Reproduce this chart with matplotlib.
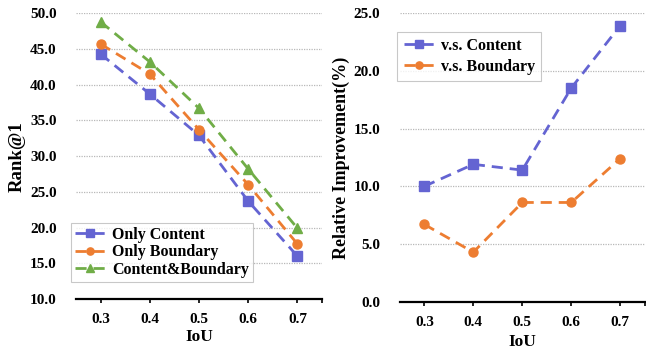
import matplotlib
matplotlib.use("Agg")
import matplotlib.pyplot as plt
from matplotlib.ticker import FixedLocator

iou = [0.3, 0.4, 0.5, 0.6, 0.7]
iou_labels = ["0.3", "0.4", "0.5", "0.6", "0.7"]
only_content = [44.3, 38.7, 32.9, 23.7, 16.0]
only_boundary = [45.7, 41.5, 33.7, 26.0, 17.7]
content_boundary = [48.8, 43.2, 36.7, 28.2, 19.9]
vs_content = [10.0, 11.9, 11.4, 18.5, 23.9]
vs_boundary = [6.7, 4.3, 8.6, 8.6, 12.4]
left_yticks = [10, 15, 20, 25, 30, 35, 40, 45, 50]
right_yticks = [0, 5, 10, 15, 20, 25]

plt.rcParams['font.family'] = ['Liberation Serif', 'DejaVu Serif']
plt.rcParams['font.weight'] = 'bold'

BLUE = '#6464D2'
ORANGE = '#ED7D31'
GREEN = '#70AD47'

fig = plt.figure(figsize=(6.46, 3.49), dpi=100)
ax1 = fig.add_axes([0.1176, 0.143, 0.381, 0.819])
ax2 = fig.add_axes([0.619, 0.135, 0.379, 0.828])

def style(ax, yticks, xlabelpad):
    for s in ['left', 'right', 'top']:
        ax.spines[s].set_visible(False)
    ax.spines['bottom'].set_linewidth(1.6)
    ax.spines['bottom'].set_color('black')
    ax.set_xlim(0.25, 0.75)
    ax.set_xticks(iou)
    ax.set_xticklabels(iou_labels, fontsize=11, fontweight='bold')
    ax.xaxis.set_minor_locator(FixedLocator([0.75]))
    ax.tick_params(axis='x', which='both', direction='out', length=3, width=1.2, pad=7)
    ax.set_ylim(yticks[0], yticks[-1])
    ax.set_yticks(yticks)
    ax.set_yticklabels([f"{v:.1f}" for v in yticks], fontsize=11, fontweight='bold')
    ax.tick_params(axis='y', length=0, pad=14)
    for v in yticks[1:]:
        ax.axhline(v, color='#b8b8b8', linestyle=(0, (1, 1)), linewidth=0.9, zorder=0)
    ax.set_xlabel("IoU", fontsize=12.5, fontweight='bold', labelpad=xlabelpad)

LW = 2
MS = 6.5
style(ax1, left_yticks, 2)
ax1.plot(iou, only_content, color=BLUE, linestyle='--', dashes=(4, 2.5), linewidth=LW,
         marker='s', markersize=MS, label='Only Content')
ax1.plot(iou, only_boundary, color=ORANGE, linestyle='--', dashes=(4, 2.5), linewidth=LW,
         marker='o', markersize=MS, label='Only Boundary')
ax1.plot(iou, content_boundary, color=GREEN, linestyle='--', dashes=(4, 2.5), linewidth=LW,
         marker='^', markersize=MS, label='Content&Boundary')
ax1.set_ylabel("Rank@1", fontsize=13.5, fontweight='bold', labelpad=3)
leg1 = ax1.legend(loc='lower left', bbox_to_anchor=(-0.02, 0.06), fontsize=11.5,
                  frameon=True, fancybox=False, edgecolor='#bbbbbb', borderpad=0.25,
                  labelspacing=0.1, handlelength=1.9, handletextpad=0.4, borderaxespad=0,
                  markerscale=0.8)
leg1.get_frame().set_linewidth(0.8)

style(ax2, right_yticks, 4)
ax2.plot(iou, vs_content, color=BLUE, linestyle='--', dashes=(4, 2.5), linewidth=LW,
         marker='s', markersize=MS, label='v.s. Content')
ax2.plot(iou, vs_boundary, color=ORANGE, linestyle='--', dashes=(4, 2.5), linewidth=LW,
         marker='o', markersize=MS, label='v.s. Boundary')
ax2.set_ylabel("Relative Improvement(%)", fontsize=13, fontweight='bold', labelpad=3)
leg2 = ax2.legend(loc='upper left', bbox_to_anchor=(-0.01, 0.935), fontsize=11.5,
                  frameon=True, fancybox=False, edgecolor='#bbbbbb', borderpad=0.4,
                  labelspacing=0.3, handlelength=1.9, handletextpad=0.4, borderaxespad=0,
                  markerscale=0.8)
leg2.get_frame().set_linewidth(0.8)

fig.savefig("out.png", dpi=100)
